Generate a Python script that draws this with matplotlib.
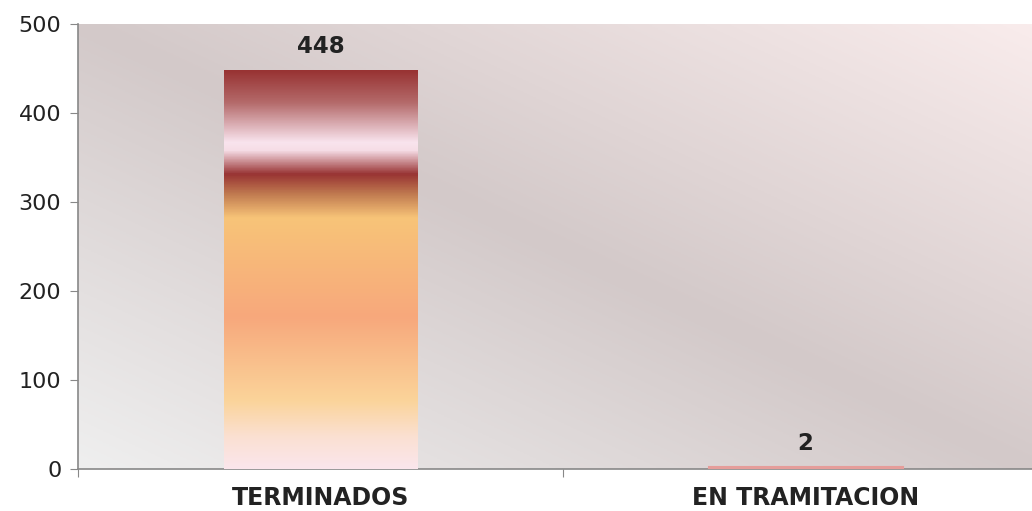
import matplotlib.pyplot as plt
import numpy as np
from matplotlib.colors import LinearSegmentedColormap

categories = ["TERMINADOS", "EN TRAMITACION"]
values = [448, 2]
yticks = [0, 100, 200, 300, 400, 500]

plt.rcParams['font.family'] = ['DejaVu Sans']

bg_cmap = LinearSegmentedColormap.from_list(
    "bg", [(0.0, "#efefef"), (0.5, "#d3c9c9"), (1.0, "#f9ecec")])
bar_cmap = LinearSegmentedColormap.from_list(
    "bar", [(0.0, "#983333"), (0.08, "#b46a6a"), (0.18, "#f9e4ee"),
            (0.20, "#f6dde6"), (0.26, "#983333"), (0.31, "#c07a50"),
            (0.37, "#f8c478"), (0.62, "#f7a87c"), (0.83, "#fbd49a"),
            (0.92, "#fae0d2"), (1.0, "#fbe6ec")])

fig = plt.figure(figsize=(10.32, 5.11), dpi=100)
# the plot area runs a little past the right edge of the picture
ax = fig.add_axes([78 / 1032, 1 - 469 / 511, 970 / 1032, 445 / 511])

# diagonal background gradient, kept to the visible part
vis = 954 / 970
xx, yy = np.meshgrid(np.linspace(0, 1, 300), np.linspace(0, 1, 300))
ax.imshow((xx + yy) / 2, cmap=bg_cmap, extent=[0, vis, 0, 1], origin="lower",
          transform=ax.transAxes, aspect="auto", zorder=0, vmin=0, vmax=1)

x = np.arange(len(categories))
width = 0.4
grad = np.linspace(0, 1, 256).reshape(-1, 1)
for xi, v in zip(x, values):
    if v < 20:
        # too thin for the gradient: plain bar with an edge so it shows
        ax.bar(xi, v, width, color="#f2b48a", edgecolor="#e59d9a",
               linewidth=1.5, zorder=3)
    else:
        ax.imshow(grad, cmap=bar_cmap, extent=[xi - width / 2, xi + width / 2, 0, v],
                  aspect="auto", zorder=3)
    ax.text(xi, v + 14, str(v), ha="center", va="bottom", fontsize=16.5,
            fontweight="bold", color="#222222", zorder=4)

ax.set_xlim(-0.5, len(categories) - 0.5)
ax.set_ylim(0, 500)
ax.set_yticks(yticks)
ax.set_xticks(np.arange(-0.5, len(categories), 1.0))
ax.set_xticklabels([])
ax.set_xticks(x, minor=True)
ax.set_xticklabels(categories, minor=True, fontsize=17, fontweight="bold",
                   color="#222222")
ax.tick_params(axis="x", which="minor", length=0, pad=12)
ax.tick_params(axis="x", which="major", length=6, color="#888888")
ax.tick_params(axis="y", length=6, color="#888888", labelsize=16,
               labelcolor="#222222", pad=6)

for s in ["top", "right"]:
    ax.spines[s].set_visible(False)
for s in ["left", "bottom"]:
    ax.spines[s].set_color("#888888")
    ax.spines[s].set_linewidth(1.2)

fig.savefig("out.png", dpi=100)
